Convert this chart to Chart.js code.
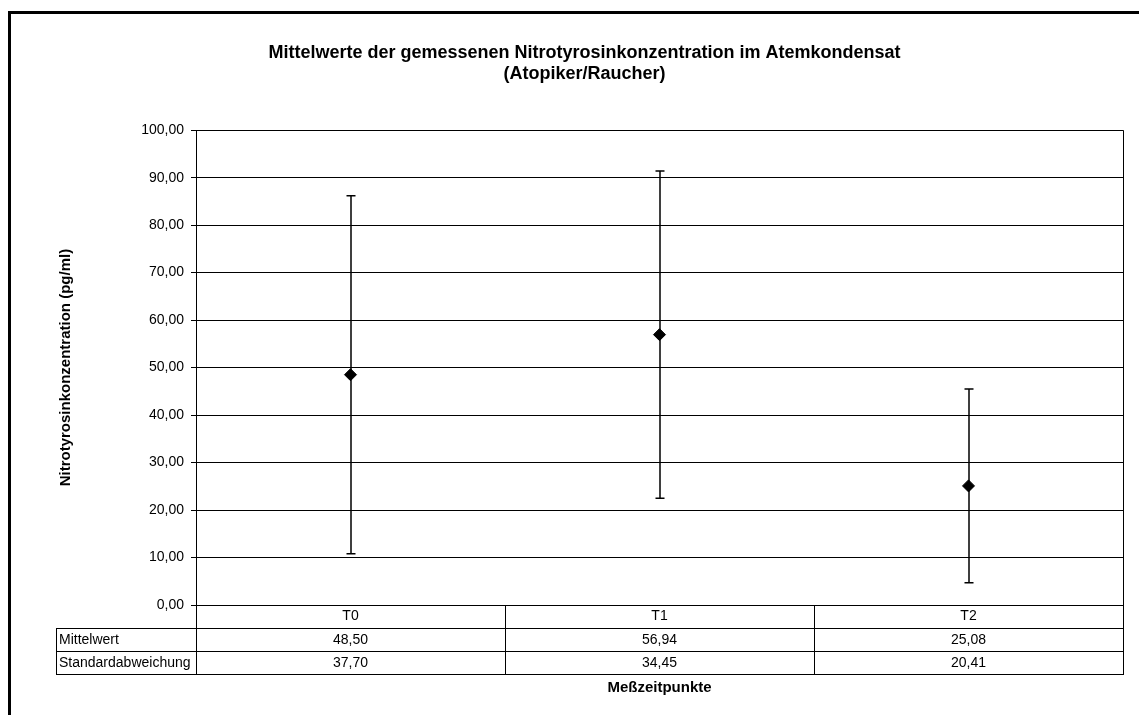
<!DOCTYPE html>
<html>
<head>
<meta charset="utf-8">
<script src="https://cdn.jsdelivr.net/npm/chart.js@4.4.0/dist/chart.umd.min.js"></script>
<style>
  html, body { margin: 0; padding: 0; background: #fff; }
</style>
</head>
<body>
<canvas id="chart" width="1139" height="715"></canvas>
<script>
// Messzeitpunkte und Messwerte
const zeitpunkte = ['T0', 'T1', 'T2'];
const mittelwert = [48.50, 56.94, 25.08];
const standardabweichung = [37.70, 34.45, 20.41];
const zeilenNamen = ['Mittelwert', 'Standardabweichung'];

const SCHRIFT = 'Liberation Sans, Arial, sans-serif';
const fmt = v => v.toFixed(2).replace('.', ',');

// Weisser Hintergrund und dicker Rahmen um das Diagramm
const rahmen = {
    id: 'rahmen',
    beforeDraw(chart) {
        const ctx = chart.ctx;
        ctx.save();
        ctx.fillStyle = '#fff';
        ctx.fillRect(0, 0, chart.width, chart.height);
        ctx.strokeStyle = '#000';
        ctx.lineWidth = 3;
        ctx.strokeRect(9.5, 12.5, chart.width + 40, chart.height + 40);
        ctx.restore();
    }
};

// Fehlerbalken (Mittelwert +/- Standardabweichung)
const fehlerbalken = {
    id: 'fehlerbalken',
    beforeDatasetsDraw(chart) {
        const { ctx, scales: { x, y } } = chart;
        ctx.save();
        ctx.strokeStyle = '#000';
        ctx.lineWidth = 1.5;
        mittelwert.forEach((m, i) => {
            const px = Math.round(x.getPixelForValue(i));
            const oben = y.getPixelForValue(m + standardabweichung[i]);
            const unten = y.getPixelForValue(m - standardabweichung[i]);
            ctx.beginPath();
            ctx.moveTo(px, oben); ctx.lineTo(px, unten);
            ctx.moveTo(px - 4.5, oben); ctx.lineTo(px + 4.5, oben);
            ctx.moveTo(px - 4.5, unten); ctx.lineTo(px + 4.5, unten);
            ctx.stroke();
        });
        ctx.restore();
    }
};

// Datentabelle unter der x-Achse
const datentabelle = {
    id: 'datentabelle',
    afterDraw(chart) {
        const { ctx, chartArea: ca, scales: { x } } = chart;
        const zeileH = 23;
        const links = 56;
        const grenzen = [ca.left];
        for (let i = 0; i < zeitpunkte.length - 1; i++) {
            grenzen.push((x.getPixelForValue(i) + x.getPixelForValue(i + 1)) / 2);
        }
        grenzen.push(ca.right);

        ctx.save();
        ctx.strokeStyle = '#000';
        ctx.lineWidth = 1;
        ctx.beginPath();
        // rechter Rand der Zeichenflaeche
        ctx.moveTo(Math.round(ca.right) + 0.5, ca.top);
        ctx.lineTo(Math.round(ca.right) + 0.5, ca.bottom);
        // waagerechte Linien
        for (let r = 1; r <= zeilenNamen.length + 1; r++) {
            const yy = Math.round(ca.bottom + r * zeileH) + 0.5;
            ctx.moveTo(links, yy);
            ctx.lineTo(ca.right + 1, yy);
        }
        // senkrechte Linien
        grenzen.forEach(g => {
            const xx = Math.round(g) + 0.5;
            ctx.moveTo(xx, ca.bottom);
            ctx.lineTo(xx, ca.bottom + (zeilenNamen.length + 1) * zeileH);
        });
        ctx.moveTo(links + 0.5, ca.bottom + zeileH);
        ctx.lineTo(links + 0.5, ca.bottom + (zeilenNamen.length + 1) * zeileH);
        ctx.stroke();

        ctx.fillStyle = '#000';
        ctx.font = '14px ' + SCHRIFT;
        ctx.textBaseline = 'middle';
        const reihen = [mittelwert, standardabweichung];
        zeilenNamen.forEach((name, r) => {
            const yy = ca.bottom + (r + 1.5) * zeileH + 1;
            ctx.textAlign = 'left';
            ctx.fillText(name, links + 3, yy);
            ctx.textAlign = 'center';
            reihen[r].forEach((v, i) => {
                ctx.fillText(fmt(v), x.getPixelForValue(i), yy);
            });
        });
        ctx.restore();
    }
};

new Chart(document.getElementById('chart'), {
    type: 'line',
    data: {
        labels: zeitpunkte,
        datasets: [{
            label: 'Mittelwert',
            data: mittelwert,
            showLine: false,
            pointStyle: 'rectRot',
            pointRadius: 6,
            pointBackgroundColor: '#000',
            pointBorderColor: '#000'
        }]
    },
    options: {
        responsive: false,
        animation: false,
        devicePixelRatio: 1,
        layout: { padding: { left: 46, right: 16, top: 0, bottom: 8 } },
        plugins: {
            legend: { display: false },
            tooltip: { enabled: false },
            title: {
                display: true,
                text: ['Mittelwerte der gemessenen Nitrotyrosinkonzentration im Atemkondensat', '(Atopiker/Raucher)'],
                color: '#000',
                font: { family: SCHRIFT, size: 18, weight: 'bold', lineHeight: 1.2 },
                padding: { top: 42, bottom: 45 }
            }
        },
        scales: {
            x: {
                offset: true,
                grid: { display: false, drawTicks: false },
                border: { display: false },
                ticks: { color: '#000', padding: 3, font: { family: SCHRIFT, size: 14 } },
                title: {
                    display: true,
                    text: 'Meßzeitpunkte',
                    color: '#000',
                    font: { family: SCHRIFT, size: 15, weight: 'bold' },
                    padding: { top: 0, bottom: 10 }
                },
                afterFit(scale) { scale.height = 102; }
            },
            y: {
                min: 0,
                max: 100,
                ticks: {
                    stepSize: 10,
                    color: '#000',
                    padding: 7,
                    font: { family: SCHRIFT, size: 14 },
                    callback: v => fmt(v)
                },
                grid: { color: '#000', lineWidth: 1, tickLength: 5 },
                border: { color: '#000', width: 1 },
                title: {
                    display: true,
                    text: 'Nitrotyrosinkonzentration (pg/ml)',
                    color: '#000',
                    font: { family: SCHRIFT, size: 15, weight: 'bold' },
                    padding: { top: 11, bottom: 0 }
                },
                afterFit(scale) { scale.width = 150; }
            }
        }
    },
    plugins: [rahmen, fehlerbalken, datentabelle]
});
</script>
</body>
</html>
